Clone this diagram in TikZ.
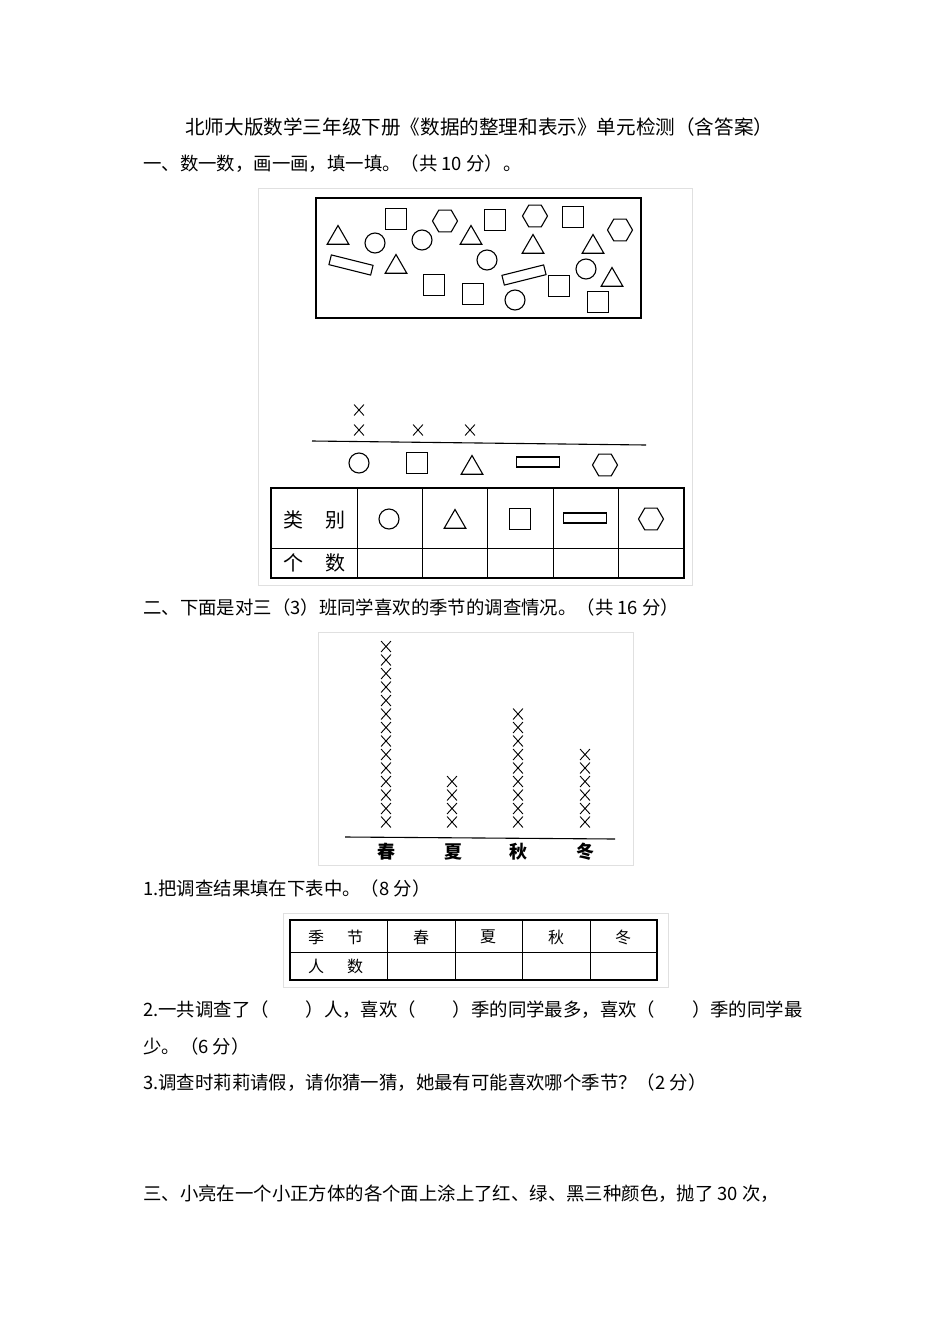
\documentclass[tikz,border=0pt]{standalone}
\usepackage{fontspec}
\setmainfont{Liberation Serif}
\newfontfamily\cjk{Noto Sans CJK SC}
\usetikzlibrary{shapes.geometric,shapes.misc}
\begin{document}
\begin{tikzpicture}[x=1pt,y=-1pt,
  txt/.style={anchor=west,inner sep=0pt,font=\cjk\fontsize{18.4}{22}\selectfont},
  lbl/.style={inner sep=0pt,font=\cjk\fontsize{18.4}{22}\selectfont},
  shp/.style={draw,line width=1.1pt,inner sep=0pt},
  circ/.style={shp,circle,minimum size=20pt},
  sq/.style={shp,rectangle,minimum size=21pt},
  tri/.style={shp,regular polygon,regular polygon sides=3,minimum size=25pt},
  hexa/.style={shp,regular polygon,regular polygon sides=6,minimum size=25pt},
  bar/.style={shp,rectangle,minimum width=43pt,minimum height=10pt},
  xm/.style={draw,cross out,line width=0.9pt,minimum width=9pt,minimum height=10pt,inner sep=0pt},
  frame/.style={draw=black!12,line width=0.8pt},
  rule/.style={line width=1.1pt},
  cell/.style={inner sep=0pt,font=\cjk\fontsize{20}{22}\selectfont},
  cell2/.style={inner sep=0pt,font=\cjk\fontsize{16}{18}\selectfont}]
\useasboundingbox (0,0) rectangle (950,1344);
\fill[white] (0,0) rectangle (950,1344);

\node[lbl,anchor=west,font=\cjk\fontsize{19.6}{22}\selectfont] (title) at (185,127) {北师大版数学三年级下册《数据的整理和表示》单元检测（含答案）};
\node[txt] (q1) at (143,164) {一、数一数，画一画，填一填。（共 10 分）。};

% figure 1
\draw[frame] (258,188) rectangle (692,585);
\draw[rule] (316,198) rectangle (641,318);
\node[tri] (t1) at (338,238) {};
\node[tri] (t2) at (396,267) {};
\node[tri] (t3) at (471,238) {};
\node[tri] (t4) at (533,247) {};
\node[tri] (t5) at (593,247) {};
\node[tri] (t6) at (612,280) {};
\node[circ] (c1) at (375,243) {};
\node[circ] (c2) at (422,240) {};
\node[circ] (c3) at (487,260) {};
\node[circ] (c4) at (586,269) {};
\node[circ] (c5) at (515,300) {};
\node[sq] (s1) at (396,219) {};
\node[sq] (s2) at (495,220) {};
\node[sq] (s3) at (573,217) {};
\node[sq] (s4) at (434,285) {};
\node[sq] (s5) at (473,294) {};
\node[sq] (s6) at (559,286) {};
\node[sq] (s7) at (598,302) {};
\node[hexa] (h1) at (445,221) {};
\node[hexa] (h2) at (535,216) {};
\node[hexa] (h3) at (620,230) {};
\node[bar,rotate=-14] (b1) at (351,265) {};
\node[bar,rotate=14] (b2) at (524,275) {};

\coordinate (la) at (312,441);
\coordinate (lb) at (646,445);
\draw[rule] (la) -- (lb);
\node[xm] (x1) at (359,410) {};
\node[xm] (x2) at (359,430) {};
\node[xm] (x3) at (418,430) {};
\node[xm] (x4) at (470,430) {};
\node[circ] (kc) at (359,463) {};
\node[sq] (ks) at (417,463) {};
\node[tri] (kt) at (472,468) {};
\node[bar] (kb) at (538,462) {};
\node[hexa] (kh) at (605,465) {};

\draw[line width=1.6pt] (271,488) rectangle (684,578);
\draw[line width=0.9pt] (271,548) -- (684,548);
\foreach \x in {357,422,487,553,618} \draw[line width=0.9pt] (\x,488) -- (\x,578);
\node[cell] (lb1) at (293,520) {类};
\node[cell] (lb2) at (335,520) {别};
\node[cell] (lb3) at (293,563) {个};
\node[cell] (lb4) at (335,563) {数};
\node[circ] (tc) at (389,519) {};
\node[tri] (tt) at (455,522) {};
\node[sq] (ts) at (520,519) {};
\node[bar] (tb) at (585,518) {};
\node[hexa] (th) at (651,519) {};

\node[txt] (q2) at (143,607) {二、下面是对三（3）班同学喜欢的季节的调查情况。（共 16 分）};

% figure 2
\draw[frame] (318,632) rectangle (633,865);
\coordinate (ba) at (345,837);
\coordinate (bb) at (615,839);
\draw[rule] (ba) -- (bb);
\foreach \i in {0,...,13} \node[xm] (xa\i) at (386,822-13.5*\i) {};
\foreach \i in {0,...,3} \node[xm] (xb\i) at (452,822-13.5*\i) {};
\foreach \i in {0,...,8} \node[xm] (xc\i) at (518,822-13.5*\i) {};
\foreach \i in {0,...,5} \node[xm] (xd\i) at (585,822-13.5*\i) {};
\node[lbl,font=\cjk\bfseries\fontsize{18}{20}\selectfont] (s1l) at (386,852) {春};
\node[lbl,font=\cjk\bfseries\fontsize{18}{20}\selectfont] (s2l) at (453,852) {夏};
\node[lbl,font=\cjk\bfseries\fontsize{18}{20}\selectfont] (s3l) at (518,852) {秋};
\node[lbl,font=\cjk\bfseries\fontsize{18}{20}\selectfont] (s4l) at (585,852) {冬};

\node[txt] (q21) at (143,888) {1.把调查结果填在下表中。（8 分）};

\draw[frame] (283,913) rectangle (668,987);
\draw[line width=1.2pt] (290,920) rectangle (657,980);
\draw[line width=0.8pt] (290,952) -- (657,952);
\foreach \x in {387,455,522,590} \draw[line width=0.8pt] (\x,920) -- (\x,980);
\node[cell2] (m1) at (316,937) {季};
\node[cell2] (m2) at (355,937) {节};
\node[cell2] (m3) at (316,966) {人};
\node[cell2] (m4) at (355,966) {数};
\node[cell2] (m5) at (421,937) {春};
\node[cell2] (m6) at (488,937) {夏};
\node[cell2] (m7) at (556,937) {秋};
\node[cell2] (m8) at (623,937) {冬};

\node[txt] (q22) at (143,1010) {2.一共调查了（　　）人，喜欢（　　）季的同学最多，喜欢（　　）季的同学最};
\node[txt] (q22b) at (143,1046) {少。（6 分）};
\node[txt] (q23) at (143,1083) {3.调查时莉莉请假，请你猜一猜，她最有可能喜欢哪个季节？（2 分）};
\node[txt] (q3) at (143,1194) {三、小亮在一个小正方体的各个面上涂上了红、绿、黑三种颜色，抛了 30 次，};
\end{tikzpicture}
\end{document}
